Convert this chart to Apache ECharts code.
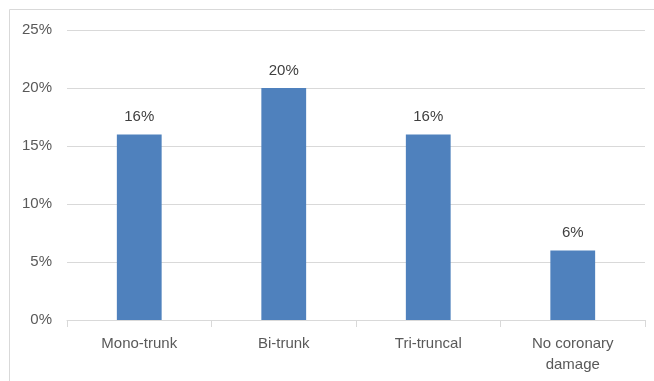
<!DOCTYPE html>
<html><head><meta charset="utf-8">
<script src="https://cdn.jsdelivr.net/npm/echarts@6/dist/echarts.min.js"></script>
<style>html,body{margin:0;padding:0;background:#fff}#c{width:654px;height:381px}</style>
</head><body><div id="c"></div>
<script>
const categories = ['Mono-trunk', 'Bi-trunk', 'Tri-truncal', 'No coronary\ndamage'];
const values = [16, 20, 16, 6];
const yTicks = [0, 5, 10, 15, 20, 25];
const chart = echarts.init(document.getElementById('c'), null, {renderer: 'canvas'});
const font = 'Liberation Sans';
chart.setOption({
  animation: false,
  graphic: [{type: 'rect', shape: {x: 9.5, y: 9.5, width: 700, height: 400}, style: {fill: 'none', stroke: '#d9d9d9', lineWidth: 1}}],
  grid: {left: 67, right: 9, top: 30, bottom: 61, containLabel: false},
  xAxis: {
    type: 'category', data: categories,
    axisLine: {lineStyle: {color: '#d9d9d9', width: 1}},
    axisTick: {show: true, length: 7, lineStyle: {color: '#d9d9d9'}},
    axisLabel: {color: '#595959', fontFamily: font, fontSize: 15, margin: 13, lineHeight: 21}
  },
  yAxis: {
    type: 'value', min: yTicks[0], max: yTicks[yTicks.length - 1], interval: 5,
    axisLine: {show: false}, axisTick: {show: false},
    splitLine: {lineStyle: {color: '#d9d9d9', width: 1}},
    axisLabel: {color: '#595959', fontFamily: font, fontSize: 15, margin: 15, formatter: v => v + '%'}
  },
  series: [{
    type: 'bar', data: values, barWidth: '31%',
    itemStyle: {color: '#4f81bd'},
    label: {show: true, position: 'top', distance: 10, color: '#404040', fontFamily: font, fontSize: 15, formatter: p => p.value + '%'}
  }]
});
</script></body></html>
